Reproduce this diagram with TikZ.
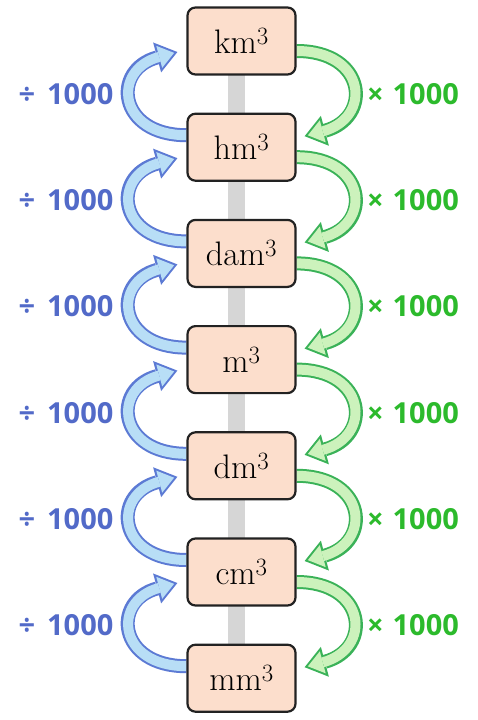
\documentclass[tikz,border=0pt]{standalone}
\usepackage{fontspec}
\usetikzlibrary{arrows.meta,backgrounds}

\newfontfamily\labelfont{Open Sans}

\definecolor{unitfill}{RGB}{252,222,204}
\definecolor{unitrim}{RGB}{34,34,34}
\definecolor{railgray}{RGB}{214,214,214}
\definecolor{divrimc}{RGB}{92,122,212}
\definecolor{divfillc}{RGB}{184,222,246}
\definecolor{divtext}{RGB}{82,106,200}
\definecolor{mulrimc}{RGB}{58,178,88}
\definecolor{mulfillc}{RGB}{204,242,188}
\definecolor{multext}{RGB}{44,186,44}

\begin{document}
\begin{tikzpicture}[x=1pt, y=1pt]
 \tikzstyle{unitbox}=[draw=unitrim, fill=unitfill, line width=2.2pt, rounded corners=8pt, minimum width=108pt, minimum height=67pt, inner sep=0pt, font=\fontsize{34}{38}\selectfont]
 \tikzstyle{rail}=[draw=railgray, line width=17pt]
 \tikzstyle{divrim}=[draw=divrimc, line width=14pt, shorten >=0pt, -{Triangle[length=21pt, width=31pt, line width=0pt]}]
 \tikzstyle{divarr}=[preaction={divrim}, draw=divfillc, line width=10pt, shorten >=3.4pt, -{Triangle[length=15.4pt, width=22.8pt, line width=0pt]}]
 \tikzstyle{mulrim}=[draw=mulrimc, line width=14pt, shorten >=0pt, -{Triangle[length=21pt, width=31pt, line width=0pt]}]
 \tikzstyle{mularr}=[preaction={mulrim}, draw=mulfillc, line width=10pt, shorten >=3.4pt, -{Triangle[length=15.4pt, width=22.8pt, line width=0pt]}]
 \tikzstyle{divlab}=[text=divtext, font=\labelfont\bfseries\fontsize{29}{33}\selectfont]
 \tikzstyle{mullab}=[text=multext, font=\labelfont\bfseries\fontsize{29}{33}\selectfont]
 \useasboundingbox (0,0) rectangle (477,-720);
 %
 \node[unitbox] (km) at (241.5, -41) {km$^3$};
 \node[unitbox] (hm) at (241.5, -147.2) {hm$^3$};
 \node[unitbox] (dam) at (241.5, -253.4) {dam$^3$};
 \node[unitbox] (m) at (241.5, -359.6) {m$^3$};
 \node[unitbox] (dm) at (241.5, -465.8) {dm$^3$};
 \node[unitbox] (cm) at (241.5, -572) {cm$^3$};
 \node[unitbox] (mm) at (241.5, -678.2) {mm$^3$};
 %
 \node[divlab] (d1) at (66, -94.1) {÷\hspace{12pt}1000};
 \node[divlab] (d2) at (66, -200.3) {÷\hspace{12pt}1000};
 \node[divlab] (d3) at (66, -306.5) {÷\hspace{12pt}1000};
 \node[divlab] (d4) at (66, -412.7) {÷\hspace{12pt}1000};
 \node[divlab] (d5) at (66, -518.9) {÷\hspace{12pt}1000};
 \node[divlab] (d6) at (66, -625.1) {÷\hspace{12pt}1000};
 %
 \node[mullab] (x1) at (413, -94.1) {×\hspace{9pt}1000};
 \node[mullab] (x2) at (413, -200.3) {×\hspace{9pt}1000};
 \node[mullab] (x3) at (413, -306.5) {×\hspace{9pt}1000};
 \node[mullab] (x4) at (413, -412.7) {×\hspace{9pt}1000};
 \node[mullab] (x5) at (413, -518.9) {×\hspace{9pt}1000};
 \node[mullab] (x6) at (413, -625.1) {×\hspace{9pt}1000};
 %%
 \begin{pgfonlayer}{background}
 \draw[rail] ([xshift=-5pt]km.center)--([xshift=-5pt]hm.center);
 \draw[rail] ([xshift=-5pt]hm.center)--([xshift=-5pt]dam.center);
 \draw[rail] ([xshift=-5pt]dam.center)--([xshift=-5pt]m.center);
 \draw[rail] ([xshift=-5pt]m.center)--([xshift=-5pt]dm.center);
 \draw[rail] ([xshift=-5pt]dm.center)--([xshift=-5pt]cm.center);
 \draw[rail] ([xshift=-5pt]cm.center)--([xshift=-5pt]mm.center);
 % going up: divide
 \draw[divarr] ([yshift=12pt]hm.west) to[out=180, in=195, looseness=2.1] ([xshift=-9pt, yshift=-11pt]km.west);
 \draw[divarr] ([yshift=12pt]dam.west) to[out=180, in=195, looseness=2.1] ([xshift=-9pt, yshift=-11pt]hm.west);
 \draw[divarr] ([yshift=12pt]m.west) to[out=180, in=195, looseness=2.1] ([xshift=-9pt, yshift=-11pt]dam.west);
 \draw[divarr] ([yshift=12pt]dm.west) to[out=180, in=195, looseness=2.1] ([xshift=-9pt, yshift=-11pt]m.west);
 \draw[divarr] ([yshift=12pt]cm.west) to[out=180, in=195, looseness=2.1] ([xshift=-9pt, yshift=-11pt]dm.west);
 \draw[divarr] ([yshift=12pt]mm.west) to[out=180, in=195, looseness=2.1] ([xshift=-9pt, yshift=-11pt]cm.west);
 % going down: multiply
 \draw[mularr] ([yshift=-10pt]km.east) to[out=0, in=15, looseness=2.1] ([xshift=8pt, yshift=11pt]hm.east);
 \draw[mularr] ([yshift=-10pt]hm.east) to[out=0, in=15, looseness=2.1] ([xshift=8pt, yshift=11pt]dam.east);
 \draw[mularr] ([yshift=-10pt]dam.east) to[out=0, in=15, looseness=2.1] ([xshift=8pt, yshift=11pt]m.east);
 \draw[mularr] ([yshift=-10pt]m.east) to[out=0, in=15, looseness=2.1] ([xshift=8pt, yshift=11pt]dm.east);
 \draw[mularr] ([yshift=-10pt]dm.east) to[out=0, in=15, looseness=2.1] ([xshift=8pt, yshift=11pt]cm.east);
 \draw[mularr] ([yshift=-10pt]cm.east) to[out=0, in=15, looseness=2.1] ([xshift=8pt, yshift=11pt]mm.east);
 \end{pgfonlayer}
\end{tikzpicture}
\end{document}
